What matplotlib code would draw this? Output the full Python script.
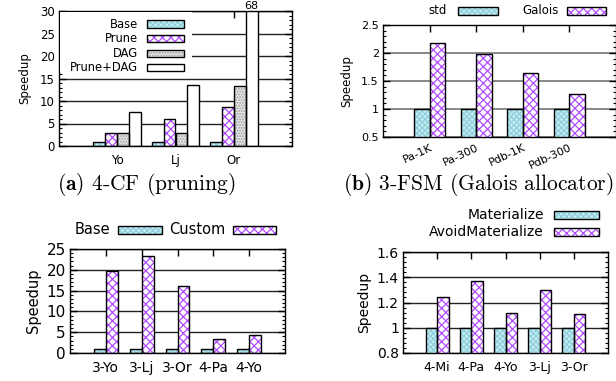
import matplotlib
matplotlib.use("Agg")
import matplotlib.pyplot as plt
from matplotlib.patches import Rectangle
from matplotlib.ticker import MultipleLocator

plt.rcParams['font.family'] = 'DejaVu Sans'
plt.rcParams['mathtext.fontset'] = 'cm'
plt.rcParams['hatch.linewidth'] = 0.9

# (a) 4-CF (pruning)
cf_graphs = ["Yo", "Lj", "Or"]
cf_series = ["Base", "Prune", "DAG", "Prune+DAG"]
cf_base = [1.0, 1.0, 1.0]
cf_prune = [2.8, 5.9, 8.6]
cf_dag = [2.9, 2.8, 13.3]
cf_prune_dag = [7.5, 13.6, 68.0]

# (b) 3-FSM (Galois allocator)
fsm_inputs = ["Pa-1K", "Pa-300", "Pdb-1K", "Pdb-300"]
fsm_series = ["std", "Galois"]
fsm_std = [1.0, 1.0, 1.0, 1.0]
fsm_galois = [2.18, 1.99, 1.65, 1.26]

# (c) custom
cu_inputs = ["3-Yo", "3-Lj", "3-Or", "4-Pa", "4-Yo"]
cu_series = ["Base", "Custom"]
cu_base = [1.0, 1.0, 1.0, 1.0, 1.0]
cu_custom = [19.8, 23.4, 16.1, 3.4, 4.3]

# (d) materialize
ma_inputs = ["4-Mi", "4-Pa", "4-Yo", "3-Lj", "3-Or"]
ma_series = ["Materialize", "AvoidMaterialize"]
ma_mat = [1.0, 1.0, 1.0, 1.0, 1.0]
ma_avoid = [1.24, 1.37, 1.12, 1.30, 1.11]

W, H = 616, 381
fig = plt.figure(figsize=(W / 100, H / 100), dpi=100)

# estilos de relleno: (color de fondo, color del patron, patron)
estilos = {
    "cyan": ("#c6ecf3", "#8fd0dc", "xxxxxx"),
    "purple": ("white", "#b24cff", "xxxx"),
    "grey": ("#e4e4e4", "#a0a0a0", "......"),
    "white": ("white", "white", None),
}


def caja(x0, y0, x1, y1):
    # pixeles -> fraccion de figura
    return [x0 / W, 1 - y1 / H, (x1 - x0) / W, (y1 - y0) / H]


def barra(ax, x, h, w, estilo, bottom=0):
    fc, hc, hatch = estilos[estilo]
    ax.bar(x, h, w, bottom=bottom, color=fc, edgecolor=hc, hatch=hatch,
           linewidth=0, zorder=2)
    ax.bar(x, h, w, bottom=bottom, fill=False, edgecolor="black",
           linewidth=1.0, zorder=3)


def muestra(x0, y0, x1, y1, estilo):
    fc, hc, hatch = estilos[estilo]
    r = Rectangle((x0 / W, 1 - y1 / H), (x1 - x0) / W, (y1 - y0) / H,
                  transform=fig.transFigure, facecolor=fc, edgecolor=hc,
                  hatch=hatch, linewidth=0, zorder=5)
    fig.add_artist(r)
    r2 = Rectangle((x0 / W, 1 - y1 / H), (x1 - x0) / W, (y1 - y0) / H,
                   transform=fig.transFigure, fill=False, edgecolor="black",
                   linewidth=1.0, zorder=6)
    fig.add_artist(r2)


def etiqueta(x, y, texto, size):
    fig.text(x / W, 1 - y / H, texto, ha="right", va="center", fontsize=size)


def ejes(ax, n, ymin, ymax, major, minor, tsize, grid_color):
    ax.set_xlim(0, n + 1)
    ax.set_ylim(ymin, ymax)
    ax.yaxis.set_major_locator(MultipleLocator(major))
    ax.yaxis.set_minor_locator(MultipleLocator(minor))
    ax.tick_params(axis="y", which="major", direction="in", length=5,
                   width=1, right=True, labelsize=tsize, pad=3)
    ax.tick_params(axis="y", which="minor", direction="in", length=2.5,
                   width=0.8, right=True)
    ax.tick_params(axis="x", which="major", direction="in", length=5,
                   width=1, top=True, pad=6)
    ax.tick_params(axis="x", which="minor", bottom=False, top=False)
    for s in ax.spines.values():
        s.set_linewidth(1.0)
    ax.set_axisbelow(True)
    ax.grid(axis="y", which="major", color=grid_color, linewidth=1.0, zorder=0)


# ---------- (a) ----------
ax = fig.add_axes(caja(59, 11, 292, 146))
ejes(ax, 3, 0, 30, 5, 1, 8.5, "#222222")
xs = [i + 1 for i in range(len(cf_graphs))]
datos_a = [cf_base, cf_prune, cf_dag, cf_prune_dag]
colores_a = ["cyan", "purple", "grey", "white"]
for k, (vals, est) in enumerate(zip(datos_a, colores_a)):
    off = (k - 1.5) * 0.205
    barra(ax, [x + off for x in xs], vals, 0.205, est)
ax.set_xticks(xs)
ax.set_xticklabels(cf_graphs, fontsize=8.5)
ax.set_ylabel("Speedup", fontsize=8.5, labelpad=6)
# valor recortado
ax.text(xs[2] + 1.5 * 0.205, 29.9, "%d" % cf_prune_dag[2], ha="center",
        va="bottom", fontsize=8)
# leyenda con fondo blanco
ax.add_patch(Rectangle((0.005, 0.55), 0.565, 0.44, transform=ax.transAxes,
                       facecolor="white", edgecolor="none", zorder=4))
for k, (nombre, est) in enumerate(zip(cf_series, colores_a)):
    yc = 24 + k * 14.6
    etiqueta(138, yc, nombre, 8.3)
    muestra(147, yc - 3.5, 184, yc + 3.5, est)
fig.text(146 / W, 1 - 185 / H, r"$\mathbf{(a)}$ 4-CF (pruning)",
         family="cmr10", fontsize=15.5, ha="center", va="center")

# ---------- (b) ----------
ax = fig.add_axes(caja(383, 25, 616, 137))
ejes(ax, 4, 0.5, 2.5, 0.5, 0.1, 8, "#888888")
ax.grid(axis="y", which="major", color="#888888", linewidth=1.4, zorder=0)
xs = [i + 1 for i in range(len(fsm_inputs))]
barra(ax, [x - 1 / 6 for x in xs], fsm_std, 1 / 3, "cyan")
barra(ax, [x + 1 / 6 for x in xs], fsm_galois, 1 / 3, "purple")
ax.set_xticks(xs)
ax.set_xticklabels(fsm_inputs, fontsize=8, rotation=25, ha="right",
                   rotation_mode="anchor")
ax.tick_params(axis="x", pad=4)
ax.set_yticks([0.5, 1, 1.5, 2, 2.5])
ax.set_yticklabels(["0.5", "1", "1.5", "2", "2.5"])
ax.set_ylabel("Speedup", fontsize=8.5, labelpad=6)
etiqueta(447, 11, fsm_series[0], 8.5)
muestra(458, 7, 498, 15, "cyan")
etiqueta(559, 11, fsm_series[1], 8.5)
muestra(567, 7, 606, 15, "purple")
fig.text(343 / W, 1 - 185 / H, r"$\mathbf{(b)}$ 3-FSM (Galois allocator)",
         family="cmr10", fontsize=15.5, ha="left", va="center")

# ---------- (c) ----------
ax = fig.add_axes(caja(70, 249, 285, 353))
ejes(ax, 5, 0, 25, 5, 1, 11, "#222222")
xs = [i + 1 for i in range(len(cu_inputs))]
barra(ax, [x - 1 / 6 for x in xs], cu_base, 1 / 3, "cyan")
barra(ax, [x + 1 / 6 for x in xs], cu_custom, 1 / 3, "purple")
ax.set_xticks(xs)
ax.set_xticklabels(cu_inputs, fontsize=10)
ax.set_ylabel("Speedup", fontsize=10.5, labelpad=4)
etiqueta(110, 230, cu_series[0], 10.5)
muestra(118, 226, 162, 234, "cyan")
etiqueta(225, 230, cu_series[1], 10.5)
muestra(233, 226, 276, 234, "purple")

# ---------- (d) ----------
ax = fig.add_axes(caja(403, 252, 608, 353))
ejes(ax, 5, 0.8, 1.6, 0.2, 0.04, 10, "#222222")
xs = [i + 1 for i in range(len(ma_inputs))]
barra(ax, [x - 1 / 6 for x in xs], ma_mat, 1 / 3, "cyan", bottom=0)
barra(ax, [x + 1 / 6 for x in xs], ma_avoid, 1 / 3, "purple", bottom=0)
ax.set_xticks(xs)
ax.set_xticklabels(ma_inputs, fontsize=9)
ax.set_yticks([0.8, 1.0, 1.2, 1.4, 1.6])
ax.set_yticklabels(["0.8", "1", "1.2", "1.4", "1.6"])
ax.set_ylabel("Speedup", fontsize=10, labelpad=4)
etiqueta(544, 215, ma_series[0], 10)
muestra(554, 211, 599, 219, "cyan")
etiqueta(544, 232, ma_series[1], 10)
muestra(554, 228, 599, 236, "purple")

fig.savefig("out.png", dpi=100)
